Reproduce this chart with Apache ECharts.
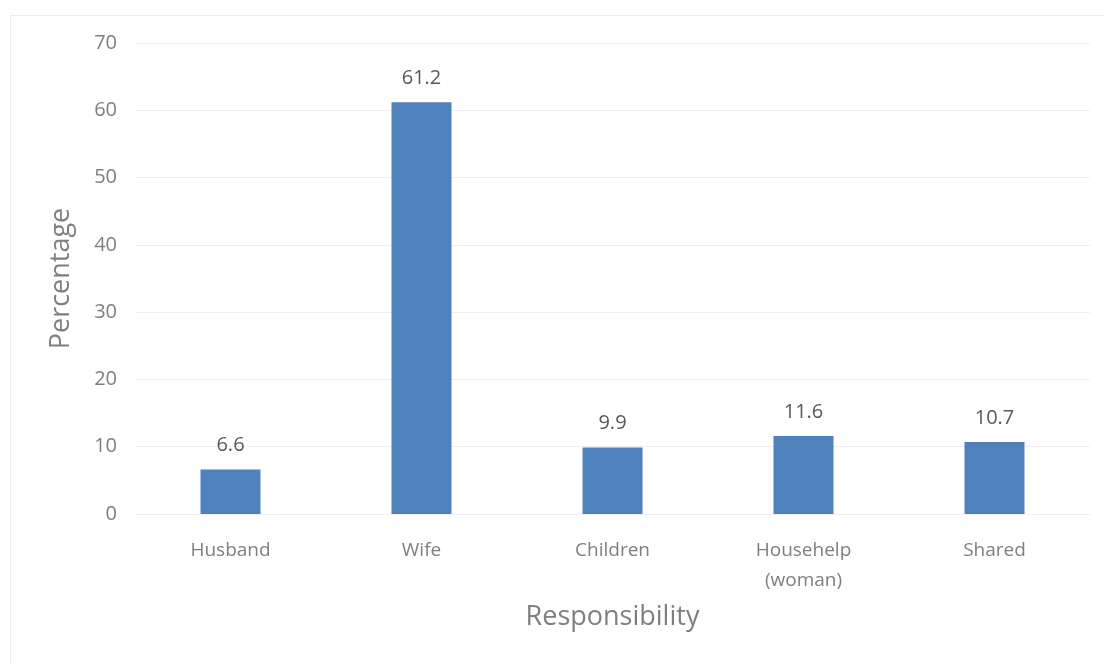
<!DOCTYPE html>
<html><head><meta charset="utf-8">
<script src="https://cdn.jsdelivr.net/npm/echarts@6/dist/echarts.min.js"></script>
<style>html,body{margin:0;padding:0;background:#fff}#c{width:1104px;height:664px}</style>
</head><body><div id="c"></div>
<script>
const categories = ['Husband', 'Wife', 'Children', 'Househelp\n(woman)', 'Shared'];
const values = [6.6, 61.2, 9.9, 11.6, 10.7];
const yTicks = { min: 0, max: 70, interval: 10 };

const chart = echarts.init(document.getElementById('c'));
chart.setOption({
  animation: false,
  backgroundColor: '#fff',
  graphic: [{
    type: 'rect', left: 8, top: 13,
    shape: { width: 1120, height: 680 },
    style: { fill: 'none', stroke: '#ececec', lineWidth: 1 }
  }],
  grid: { left: 135, right: 14, top: 43, bottom: 150 },
  xAxis: {
    type: 'category', data: categories,
    axisLine: { show: false }, axisTick: { show: false },
    axisLabel: { color: '#7f7f7f', fontSize: 19, fontFamily: 'Open Sans', margin: 22, lineHeight: 30 },
    name: 'Responsibility', nameLocation: 'middle', nameGap: 90,
    nameTextStyle: { color: '#7f7f7f', fontSize: 27, fontFamily: 'Open Sans' }
  },
  yAxis: {
    type: 'value', min: yTicks.min, max: yTicks.max, interval: yTicks.interval,
    axisLine: { show: false }, axisTick: { show: false },
    splitLine: { lineStyle: { color: '#efefef', width: 1 } },
    axisLabel: { color: '#7f7f7f', fontSize: 20, fontFamily: 'Open Sans', margin: 18 },
    name: 'Percentage', nameLocation: 'middle', nameGap: 60,
    nameTextStyle: { color: '#7f7f7f', fontSize: 27, fontFamily: 'Open Sans' }
  },
  series: [{
    type: 'bar', data: values, barWidth: 60,
    itemStyle: { color: '#4f81bd' },
    label: { show: true, position: 'top', distance: 14, color: '#595959', fontSize: 20, fontFamily: 'Open Sans' }
  }]
});
</script></body></html>
